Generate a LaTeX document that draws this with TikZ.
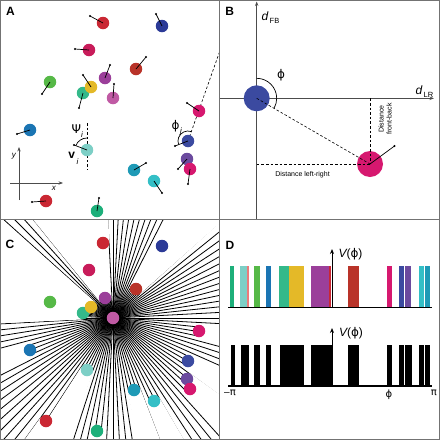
\documentclass[tikz,border=0pt]{standalone}
\usepackage{fontspec}
\setmainfont{Liberation Sans}
\newfontfamily\grk{DejaVu Sans}
\usetikzlibrary{arrows.meta,calc}
\pgfdeclarelayer{background}
\pgfsetlayers{background,main}

\definecolor{cRed}{HTML}{CA2733}
\definecolor{cBlueD}{HTML}{2B3A97}
\definecolor{cCrim}{HTML}{C81C5A}
\definecolor{cBrick}{HTML}{B93329}
\definecolor{cPurple}{HTML}{9B3F9A}
\definecolor{cGreen}{HTML}{56B947}
\definecolor{cYellow}{HTML}{E4B928}
\definecolor{cTealG}{HTML}{34B98A}
\definecolor{cOrchid}{HTML}{C05AA4}
\definecolor{cMag}{HTML}{D6186F}
\definecolor{cBlue}{HTML}{1B75B3}
\definecolor{cDBlue}{HTML}{3B4AA0}
\definecolor{cLTeal}{HTML}{7DCFC6}
\definecolor{cViolet}{HTML}{6B4A9E}
\definecolor{cTealB}{HTML}{1E9AB6}
\definecolor{cCyan}{HTML}{34BFC6}
\definecolor{cGreenT}{HTML}{1DAF7A}
\definecolor{cPinkL}{HTML}{EC7B7B}

% agent / colour / x / y / heading x / heading y
\def\agents{1/cRed/103/23/90/16, 2/cBlueD/162/26/156/14, 3/cCrim/89/50/75/49,
  4/cBrick/136/69/146/57, 5/cPurple/105/78/110/65, 6/cGreen/50/82/42/94,
  8/cTealG/83/93/79/108, 7/cYellow/91/87/83/75, 9/cOrchid/113/98/114/84,
  10/cMag/199/111/187/103, 11/cBlue/30/130/17/134, 12/cDBlue/188/141/175/146,
  13/cLTeal/87/150/74/145, 14/cViolet/187/159/178/169, 15/cMag/190/169/188/184,
  16/cTealB/134/170/146/163, 17/cCyan/154/181/162/193, 18/cRed/46/201/32/202,
  19/cGreenT/97/211/99/198}

\begin{document}
\begin{tikzpicture}[
x=1pt, y=-1pt,
agent/.style={circle, fill=#1, inner sep=0pt, outer sep=0pt, minimum size=12.5pt},
bigagent/.style={circle, fill=#1, inner sep=0pt, outer sep=0pt, minimum size=26pt},
tip/.style={circle, fill=black, inner sep=0pt, outer sep=0pt, minimum size=2.4pt},
heading/.style={draw=black, line width=0.7pt},
guide/.style={draw=black, line width=0.6pt, dash pattern=on 2.6pt off 2pt},
axis/.style={draw=black!70, line width=0.75pt, -{Stealth[length=4.5pt,width=3.4pt]}},
vaxis/.style={draw=black, line width=1pt, -{Stealth[length=5pt,width=4pt]}},
base/.style={draw=black, line width=1.3pt},
ray/.style={draw=black, line width=0.8pt},
shade/.style={fill=white},
letter/.style={font=\bfseries\fontsize{12}{12}\selectfont, inner sep=0pt},
lbl/.style={font=\fontsize{12}{12}\selectfont, inner sep=0pt},
tick/.style={font=\fontsize{10}{10}\selectfont, inner sep=0pt},
small/.style={font=\fontsize{7}{8}\selectfont, inner sep=0pt, align=center},
frame/.style={draw=black!55, line width=1pt},
]
\useasboundingbox (0,0) rectangle (440,440);

% A: agents with their headings
\foreach \n/\col/\cx/\cy/\hx/\hy in \agents {
  \node[agent=\col] (a\n) at (\cx,\cy) {};
  \node[tip] (h\n) at (\hx,\hy) {};
  \draw[heading] (a\n.center) -- (h\n.center);
}
\coordinate (edgeA) at (219.5,52);
\coordinate (psitop) at (87,123);
\coordinate (psibot) at (87,170);
\begin{pgfonlayer}{background}
\draw[guide] (a12.center) -- (edgeA);
\draw[guide] (psitop) -- (psibot);
\end{pgfonlayer}
\draw[heading] (a12.center) ++(3.4,-9.4) arc[start angle=-70, end angle=-200, radius=10];
\draw[heading] (a13.center) ++(0,-12) arc[start angle=-90, end angle=-159, radius=12];
\node[lbl] (phij) at (175.5,126) {\grk ϕ};
\node[lbl, font=\itshape\fontsize{8}{8}\selectfont] at (181,131) {j};
\node[lbl] (psii) at (76.3,128.7) {\grk Ψ};
\node[lbl, font=\itshape\fontsize{8}{8}\selectfont] at (82,134.5) {i};
\node[lbl, font=\bfseries\fontsize{12}{12}\selectfont] (vi) at (71.7,155) {v};
\node[lbl, font=\itshape\fontsize{8}{8}\selectfont] at (77.5,161.5) {i};
\coordinate (ybot) at (19,200);
\coordinate (ytop) at (19,147);
\coordinate (xleft) at (10,183);
\coordinate (xright) at (63,183);
\draw[axis] (ybot) -- (ytop);
\draw[axis] (xleft) -- (xright);
\node[lbl, font=\itshape\fontsize{8}{8}\selectfont] at (14,156) {y};
\node[lbl, font=\itshape\fontsize{8}{8}\selectfont] at (54,188) {x};
\node[letter] at (10.5,11.5) {A};

% B: relative position of a neighbour
\coordinate (fbbot) at (256.7,219.5);
\coordinate (fbtop) at (256.7,1.5);
\coordinate (lrleft) at (220,98.3);
\coordinate (lrright) at (434,98.3);
\draw[axis] (fbbot) -- (fbtop);
\draw[axis] (lrleft) -- (lrright);
\node[bigagent=cDBlue] (me) at (256.7,98.3) {};
\node[bigagent=cMag] (other) at (370,164) {};
\node[tip] (otherhead) at (394.5,146) {};
\draw[heading] (other.center) -- (otherhead.center);
\coordinate (fb) at (other.center |- me.center);
\coordinate (lr) at (me.center |- other.center);
\draw[guide] (me.center) -- (other.center);
\draw[guide] (fb) -- (other.center);
\draw[guide] (lr) -- (other.center);
\draw[heading] (me.center) ++(0,-20) arc[start angle=-90, end angle=30, radius=20];
\node[lbl] at (281,75) {\grk ϕ};
\node[lbl, anchor=base west] at (261.5,20) {\itshape d};
\node[lbl, anchor=base west, font=\fontsize{7.5}{8}\selectfont] at (269.5,23.5) {FB};
\node[lbl, anchor=base west] at (415.5,94) {\itshape d};
\node[lbl, anchor=base west, font=\fontsize{7.5}{8}\selectfont] at (423.5,97.5) {LR};
\node[small] at (302.5,174.5) {Distance left-right};
\node[small, rotate=90] at (385,119) {Distance\\front-back};
\node[letter] at (229.7,11.3) {B};

% C: rays from the focal agent
\foreach \n/\col/\cx/\cy/\hx/\hy in \agents {
  \node[agent=\col] (b\n) at (\cx,\cy+220) {};
}
\begin{pgfonlayer}{background}
\begin{scope}
\clip (0,220) rectangle (219.5,440);
\foreach \a in {0,3,...,357}
  \draw[ray] (b9.center) -- ++(\a:260);
\foreach \n/\col/\cx/\cy/\hx/\hy in \agents {
  \ifnum\n=9\relax\else
  \pgfmathsetmacro\dx{\cx-113}
  \pgfmathsetmacro\dy{\cy-98}
  \pgfmathsetmacro\dd{veclen(\dx,\dy)}
  \pgfmathsetmacro\th{atan2(\dy,\dx)}
  \pgfmathsetmacro\al{asin(6.4/\dd)}
  \pgfmathsetmacro\tl{\dd*cos(\al)}
  \fill[shade, shift={(b9.center)}] (\th+\al:\tl) -- (\th+\al:600)
    -- (\th-\al:600) -- (\th-\al:\tl) -- cycle;
  \fi
}
\end{scope}
\end{pgfonlayer}
\node[letter] at (10,244.7) {C};

% D: visual field, coloured and binary
\foreach \xa/\xb/\col in {230.3/234.3/cGreenT, 240/247/cLTeal, 247/249/cPinkL,
  254.3/259.7/cGreen, 265.7/270.5/cBlue, 279.3/289/cTealG, 289/304/cYellow,
  310.7/329/cPurple, 329/331/cRed, 348.3/359.3/cBrick, 387.3/391.7/cMag,
  399.3/404/cDBlue, 405/410.5/cViolet, 419.3/424/cCyan, 425.3/430/cTealB}
  \fill[\col] (\xa,266) rectangle (\xb,307);
\foreach \xa/\xb in {231/235, 240.7/249.3, 254.3/260.3, 265.7/270.7, 280/304.3,
  311/331.5, 348.3/359.3, 387.3/392, 399.3/404, 405.3/411.7, 419.3/424.3, 425.3/430}
  \fill[black] (\xa,345) rectangle (\xb,386);
\coordinate (topl) at (228,307.5);
\coordinate (topr) at (432,307.5);
\coordinate (botl) at (228,386);
\coordinate (botr) at (432,386);
\draw[base] (topl) -- (topr);
\draw[base] (botl) -- (botr);
\coordinate (v1) at (332,307.5);
\coordinate (v1top) at (332,249);
\coordinate (v2) at (332,386);
\coordinate (v2top) at (332,328);
\draw[vaxis] (v1) -- (v1top);
\draw[vaxis] (v2) -- (v2top);
\node[lbl] at (350.5,254) {\itshape V\upshape({\grk ϕ})};
\node[lbl] at (351,333.5) {\itshape V\upshape({\grk ϕ})};
\node[tick] at (230,393.3) {–{\grk π}};
\node[tick] at (389,394.5) {\grk ϕ};
\node[tick] at (434,392.7) {\grk π};
\node[letter] at (230,245.3) {D};

% frame
\draw[frame] (0.5,0.5) rectangle (439.5,439.5);
\draw[frame] (219.5,0) -- (219.5,440);
\draw[frame] (0,219.5) -- (440,219.5);
\end{tikzpicture}
\end{document}
